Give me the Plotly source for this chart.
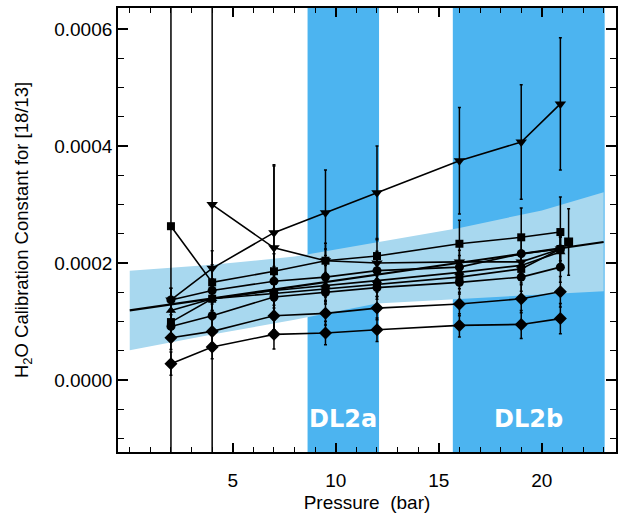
import plotly.graph_objects as go

# ---- data ----
pressures = [2, 4, 7, 9.5, 12, 16, 19, 20.9]
pressures_a = [4, 7, 9.5, 12, 16, 19, 20.9]

series_a = [0.000300, 0.000226, 0.000204, 0.000200, 0.000202, 0.000202, 0.000224]
err_a = [0.0010, 0.00014, 0.00002, 0.00002, 0.00002, 0.00002, 0.00002]

series_b = [0.000137, 0.000191, 0.000252, 0.000286, 0.000320, 0.000375, 0.000407, 0.000472]
err_b = [0.00002, 0.00003, 0.000116, 0.000073, 0.000080, 0.000091, 0.000098, 0.000113]

series_c = [0.000263, 0.000167, 0.000186, 0.000204, 0.000212, 0.000233, 0.000244, 0.000253]
err_c = [0.0010, 0.00003, 0.00003, 0.00003, 0.00003, 0.00004, 0.00005, 0.00006]

series_j = [0.000137, 0.000153, 0.000169, 0.000176, 0.000187, 0.000193, 0.000216, 0.000224]
series_i = [0.000119, 0.000139, 0.000153, 0.000162, 0.000170, 0.000184, 0.000196, 0.000219]
series_h = [0.0000991, 0.000139, 0.000148, 0.000156, 0.000163, 0.000176, 0.000190, 0.000224]
series_g = [0.0000917, 0.000110, 0.000142, 0.000150, 0.000158, 0.000167, 0.000176, 0.000193]
series_f = [0.0000724, 0.0000832, 0.000110, 0.000114, 0.000123, 0.000130, 0.000139, 0.000151]
series_e = [0.0000280, 0.0000564, 0.0000781, 0.0000803, 0.0000861, 0.0000934, 0.0000951, 0.000105]
err_small = [0.00002, 0.00002, 0.000025, 0.00002, 0.00002, 0.00002, 0.000024, 0.000026]

mean_x = [21.3]
mean_y = [0.000236]
mean_err = [0.000057]

fit_x = [0, 23]
fit_y = [0.000119, 0.000236]

band_x = [0, 4, 8, 12, 16, 20, 23]
band_upper = [0.000187, 0.000197, 0.000211, 0.000235, 0.000260, 0.000290, 0.000321]
band_lower = [0.000051, 0.000078, 0.000103, 0.000131, 0.000138, 0.000146, 0.000152]

dl_names = ["DL2a", "DL2b"]
dl_starts = [8.63, 15.68]
dl_ends = [12.1, 23.05]
dl_label_x = [10.35, 19.35]
dl_label_y = -0.000066

DARK = "#4cb4f0"
LIGHT = "#a8d8ef"

fig = go.Figure()

# light confidence band
fig.add_trace(go.Scatter(
    x=band_x + band_x[::-1], y=band_upper + band_lower[::-1],
    fill="toself", fillcolor=LIGHT, line=dict(width=0), mode="lines",
    hoverinfo="skip", showlegend=False))

fig.add_trace(go.Scatter(x=fit_x, y=fit_y, mode="lines",
                         line=dict(color="black", width=2.2), showlegend=False))


def add_series(xs, ys, errs, symbol, size=9):
    fig.add_trace(go.Scatter(
        x=xs, y=ys, mode="lines+markers",
        line=dict(color="black", width=1.6),
        marker=dict(symbol=symbol, size=size, color="black"),
        error_y=dict(type="data", array=errs, color="black", thickness=1.5, width=1.5),
        showlegend=False))


add_series(pressures, series_e, err_small, "diamond", 10)
add_series(pressures, series_f, err_small, "diamond", 10)
add_series(pressures, series_g, err_small, "circle", 9)
add_series(pressures, series_h, err_small, "square", 8)
add_series(pressures, series_i, err_small, "triangle-up", 9)
add_series(pressures, series_j, err_small, "circle", 9)
add_series(pressures, series_c, err_c, "square", 8)
add_series(pressures_a, series_a, err_a, "triangle-down", 10)
add_series(pressures, series_b, err_b, "triangle-down", 10)
add_series(mean_x, mean_y, mean_err, "square", 9)

shapes = []
annotations = []
for name, x0, x1, lx in zip(dl_names, dl_starts, dl_ends, dl_label_x):
    shapes.append(dict(type="rect", xref="x", yref="paper", x0=x0, x1=x1, y0=0, y1=1,
                       fillcolor=DARK, line=dict(width=0), layer="below"))
    annotations.append(dict(x=lx, y=dl_label_y, xref="x", yref="y", text=name, showarrow=False,
                            font=dict(family="DejaVu Sans", size=24, color="white", weight="bold")))

axis_font = dict(family="Liberation Sans, Arial", size=19, color="black")

fig.update_layout(
    width=624, height=519,
    margin=dict(l=118, r=6, t=7, b=67),
    paper_bgcolor="white", plot_bgcolor="white",
    shapes=shapes, annotations=annotations,
    showlegend=False,
    font=axis_font,
    xaxis=dict(
        range=[-0.57, 23.6], tickmode="array", tickvals=[5, 10, 15, 20],
        ticks="inside", ticklen=9, tickwidth=1.5, tickcolor="black",
        ticklabelstandoff=10,
        minor=dict(dtick=1, tick0=0, ticks="inside", ticklen=5, tickwidth=1.2, tickcolor="black"),
        showline=True, linecolor="black", linewidth=1.8, mirror="ticks",
        showgrid=False, zeroline=False,
        title=dict(text="Pressure  (bar)", font=axis_font, standoff=6),
        tickfont=axis_font,
    ),
    yaxis=dict(
        range=[-0.000123, 0.000636], tickmode="array",
        tickvals=[0, 0.0002, 0.0004, 0.0006], tickformat=".4f",
        ticks="inside", ticklen=10, tickwidth=1.5, tickcolor="black",
        minor=dict(dtick=0.00005, tick0=0, ticks="inside", ticklen=6, tickwidth=1.2, tickcolor="black"),
        showline=True, linecolor="black", linewidth=1.8, mirror="ticks",
        showgrid=False, zeroline=False,
        title=dict(text="H<sub>2</sub>O Calibration Constant for [18/13]",
                   font=dict(family="Liberation Sans, Arial", size=18.5, color="black"), standoff=21),
        tickfont=axis_font,
    ),
)

fig.write_html("out.html")
